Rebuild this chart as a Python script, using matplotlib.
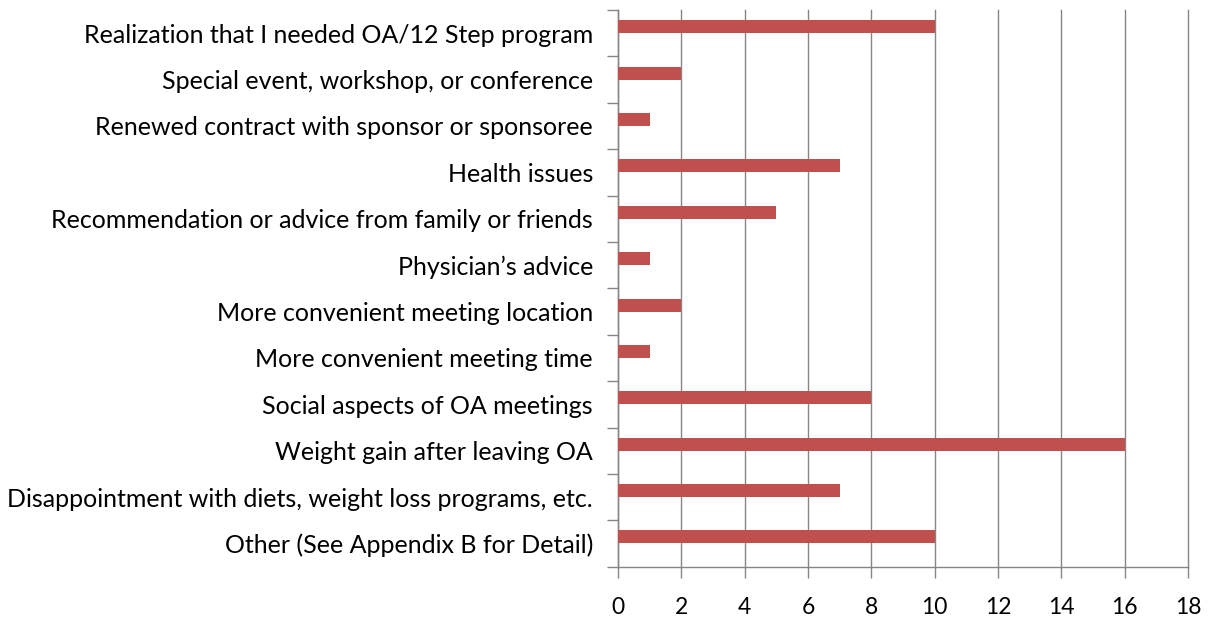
import matplotlib
matplotlib.use("Agg")
import matplotlib.pyplot as plt
import numpy as np

reasons = [
    "Realization that I needed OA/12 Step program",
    "Special event, workshop, or conference",
    "Renewed contract with sponsor or sponsoree",
    "Health issues",
    "Recommendation or advice from family or friends",
    "Physician\u2019s advice",
    "More convenient meeting location",
    "More convenient meeting time",
    "Social aspects of OA meetings",
    "Weight gain after leaving OA",
    "Disappointment with diets, weight loss programs, etc.",
    "Other (See Appendix B for Detail)",
]
counts = [10, 2, 1, 7, 5, 1, 2, 1, 8, 16, 7, 10]
x_ticks = list(range(0, 19, 2))

plt.rcParams["font.family"] = ["Lato", "DejaVu Sans"]

fig = plt.figure(figsize=(12.11, 6.23), dpi=100)
ax = fig.add_axes([0.5103, 0.0904, 0.4707, 0.8936])

bar_color = "#C0504D"
grid_color = "#868686"
pos = np.arange(len(reasons))
bar_h = 0.28
# bars sit in the upper half of each category slot (Excel clustered look)
ax.barh(pos - bar_h / 2, counts, height=bar_h, color=bar_color, zorder=3)

ax.set_xlim(0, 18)
ax.set_ylim(len(reasons) - 0.5, -0.5)
ax.set_xticks(x_ticks)
ax.set_xticklabels([str(t) for t in x_ticks], fontsize=16.5)

# y ticks at category boundaries, labels at centres
ax.set_yticks(np.arange(-0.5, len(reasons), 1.0))
ax.set_yticklabels([])
ax.set_yticks(pos, minor=True)
ax.set_yticklabels(reasons, minor=True, fontsize=18)
ax.tick_params(axis="y", which="minor", length=0, pad=18)
ax.tick_params(axis="y", which="major", length=8, width=1, color=grid_color, direction="out")
ax.tick_params(axis="x", length=8, width=1, color=grid_color, direction="out", pad=14)

ax.grid(True, axis="x", color=grid_color, linewidth=1, zorder=0)
for gl in ax.get_xgridlines():
    gl.set_clip_on(False)
for s in ["top", "right"]:
    ax.spines[s].set_visible(False)
for s in ["left", "bottom"]:
    ax.spines[s].set_color(grid_color)
    ax.spines[s].set_linewidth(1)

fig.savefig("out.png", dpi=100)
